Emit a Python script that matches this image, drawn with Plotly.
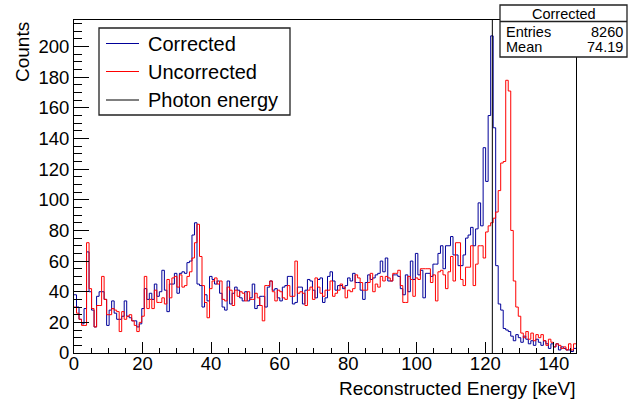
import numpy as np
import plotly.graph_objects as go

# ---------------- data ----------------
bin_count = 200
x_low, x_high = 0.0, 146.47
photon_energy = 122.06
entries_text = "8260"
mean_text = "74.19"
series_names = ["Corrected", "Uncorrected", "Photon energy"]

corrected = [
    38, 30, 22, 19, 29, 66, 40, 28, 17, 37,
    40, 40, 35, 18, 28, 34, 26, 22, 22, 24,
    34, 24, 23, 21, 21, 17, 19, 29, 42, 35,
    39, 35, 45, 37, 40, 54, 41, 27, 45, 45,
    52, 39, 52, 53, 52, 59, 60, 77, 85, 45,
    44, 30, 38, 34, 50, 48, 45, 47, 39, 30,
    28, 47, 32, 39, 43, 41, 36, 34, 40, 34,
    36, 45, 29, 31, 37, 37, 30, 43, 47, 41,
    42, 36, 34, 43, 44, 50, 50, 32, 33, 43,
    43, 32, 41, 48, 47, 41, 36, 48, 49, 33,
    36, 50, 53, 47, 41, 44, 44, 42, 44, 49,
    47, 52, 46, 46, 41, 35, 46, 51, 48, 49,
    51, 52, 60, 53, 62, 47, 47, 51, 51, 50,
    42, 38, 51, 40, 60, 48, 65, 51, 54, 36,
    52, 52, 50, 58, 58, 65, 70, 55, 70, 70,
    76, 64, 64, 57, 57, 64, 75, 77, 82, 70,
    81, 98, 83, 134, 112, 155, 207, 147, 57, 32,
    28, 16, 15, 14, 11, 8, 12, 10, 7, 11,
    9, 6, 8, 5, 9, 7, 5, 8, 6, 3,
    6, 4, 6, 2, 4, 3, 2, 2, 1, 3,
]

uncorrected = [
    30, 26, 22, 18, 18, 72, 42, 29, 17, 31,
    31, 50, 35, 25, 25, 29, 28, 27, 14, 27,
    22, 24, 25, 21, 18, 14, 20, 24, 50, 29,
    35, 29, 41, 33, 33, 36, 32, 48, 36, 49,
    50, 43, 51, 43, 44, 50, 53, 62, 72, 84,
    63, 44, 33, 23, 42, 47, 49, 45, 47, 35,
    34, 43, 41, 31, 41, 37, 40, 39, 34, 40,
    35, 35, 39, 36, 31, 21, 44, 44, 47, 40,
    34, 41, 40, 36, 35, 44, 37, 37, 60, 39,
    40, 39, 31, 41, 43, 35, 49, 43, 39, 37,
    41, 41, 47, 37, 39, 41, 45, 43, 36, 41,
    40, 42, 51, 49, 46, 41, 41, 46, 52, 40,
    45, 43, 50, 47, 50, 49, 47, 52, 52, 54,
    44, 33, 33, 50, 48, 37, 49, 48, 55, 55,
    55, 55, 46, 51, 34, 53, 54, 51, 42, 53,
    63, 47, 72, 72, 48, 44, 56, 56, 70, 44,
    58, 70, 70, 62, 79, 83, 85, 88, 92, 106,
    124, 125, 178, 171, 80, 47, 30, 24, 13, 10,
    14, 9, 13, 8, 12, 10, 12, 8, 5, 9,
    7, 4, 6, 5, 3, 4, 2, 6, 2, 6,
]

x_tick_values = [0, 20, 40, 60, 80, 100, 120, 140]
y_tick_values = [0, 20, 40, 60, 80, 100, 120, 140, 160, 180, 200]

# ---------------- figure ----------------
FONT = "Liberation Sans, Arial, Helvetica, sans-serif"
BLUE = "#000099"
RED = "#ff0000"

edges = np.linspace(x_low, x_high, bin_count + 1)


def step_y(vals):
    return list(vals) + [vals[-1]]


y_max = 1.05 * max(max(corrected), max(uncorrected))

fig = go.Figure()
fig.add_trace(go.Scatter(
    x=edges, y=step_y(corrected), mode="lines", name=series_names[0],
    line=dict(color=BLUE, width=1, shape="hv"), showlegend=False,
    hoverinfo="skip"))
fig.add_trace(go.Scatter(
    x=edges, y=step_y(uncorrected), mode="lines", name=series_names[1],
    line=dict(color=RED, width=1, shape="hv"), showlegend=False,
    hoverinfo="skip"))
fig.add_trace(go.Scatter(
    x=[photon_energy, photon_energy], y=[0, y_max], mode="lines",
    name=series_names[2], line=dict(color="black", width=1),
    showlegend=False, hoverinfo="skip"))

# plot-area pixel geometry (for legend / stats box placement)
L, R, T, B = 74, 576, 20, 353
W, H = R - L, B - T


def px(xp):
    return (xp - L) / W


def py(yp):
    return (B - yp) / H


shapes = []
annotations = []

# legend box
shapes.append(dict(type="rect", xref="paper", yref="paper",
                   x0=px(99), x1=px(290), y0=py(115), y1=py(28),
                   line=dict(color="#222222", width=1.3), fillcolor="white",
                   layer="above"))
legend_rows = [(43.5, BLUE), (71.5, RED), (100, "black")]
for (row_y, col), label in zip(legend_rows, series_names):
    shapes.append(dict(type="line", xref="paper", yref="paper",
                       x0=px(106), x1=px(139), y0=py(row_y), y1=py(row_y),
                       line=dict(color=col, width=1), layer="above"))
    annotations.append(dict(text=label, xref="paper", yref="paper",
                            x=px(146), y=py(row_y), xanchor="left",
                            yanchor="middle", showarrow=False,
                            font=dict(family=FONT, size=20, color="black")))

# stats box
shapes.append(dict(type="rect", xref="paper", yref="paper",
                   x0=px(500), x1=px(627), y0=py(57), y1=py(5),
                   line=dict(color="#222222", width=1.3), fillcolor="white",
                   layer="above"))
shapes.append(dict(type="line", xref="paper", yref="paper",
                   x0=px(500), x1=px(627), y0=py(21.5), y1=py(21.5),
                   line=dict(color="#222222", width=1.3), layer="above"))
sfont = dict(family=FONT, size=14.5, color="black")
annotations += [
    dict(text=series_names[0], xref="paper", yref="paper", x=px(563.5),
         y=py(13.5), xanchor="center", yanchor="middle", showarrow=False,
         font=sfont),
    dict(text="Entries", xref="paper", yref="paper", x=px(504), y=py(31.5),
         xanchor="left", yanchor="middle", showarrow=False, font=sfont),
    dict(text=entries_text, xref="paper", yref="paper", x=px(625),
         y=py(31.5), xanchor="right", yanchor="middle", showarrow=False,
         font=sfont),
    dict(text="Mean", xref="paper", yref="paper", x=px(504), y=py(47.5),
         xanchor="left", yanchor="middle", showarrow=False, font=sfont),
    dict(text=mean_text, xref="paper", yref="paper", x=px(625), y=py(47.5),
         xanchor="right", yanchor="middle", showarrow=False, font=sfont),
]

# axis titles (ROOT style, at the axis ends)
tfont = dict(family=FONT, size=19, color="black")
annotations += [
    dict(text="Counts", xref="paper", yref="paper", x=px(22), y=py(20),
         xanchor="center", yanchor="top", textangle=-90, showarrow=False,
         font=tfont),
    dict(text="Reconstructed Energy [keV]", xref="paper", yref="paper",
         x=px(578), y=py(388), xanchor="right", yanchor="middle",
         showarrow=False, font=tfont),
]

fig.update_layout(
    width=644, height=401,
    margin=dict(l=L, r=644 - R, t=T, b=401 - B, autoexpand=False),
    paper_bgcolor="white", plot_bgcolor="white",
    font=dict(family=FONT, size=19, color="black"),
    shapes=shapes, annotations=annotations, showlegend=False,
)
fig.update_xaxes(
    range=[x_low, x_high], tickvals=x_tick_values,
    ticks="inside", ticklen=11, tickwidth=1, tickcolor="black",
    minor=dict(ticks="inside", ticklen=5.5, dtick=5, tick0=0,
               tickcolor="black", tickwidth=1, showgrid=False),
    showline=True, linecolor="black", linewidth=1, mirror=True,
    showgrid=False, zeroline=False, ticklabelstandoff=-6,
    tickfont=dict(family=FONT, size=18.5, color="black"),
)
fig.update_yaxes(
    range=[0, y_max], tickvals=y_tick_values,
    ticks="inside", ticklen=15, tickwidth=1, tickcolor="black",
    minor=dict(ticks="inside", ticklen=7.5, dtick=5, tick0=0,
               tickcolor="black", tickwidth=1, showgrid=False),
    showline=True, linecolor="black", linewidth=1, mirror=True,
    showgrid=False, zeroline=False,
    tickfont=dict(family=FONT, size=18.5, color="black"),
)

fig.write_html(
    "out.html",
    config={"displayModeBar": False},
    post_script="document.body.style.margin='0';"
                "document.body.style.overflow='hidden';",
)
